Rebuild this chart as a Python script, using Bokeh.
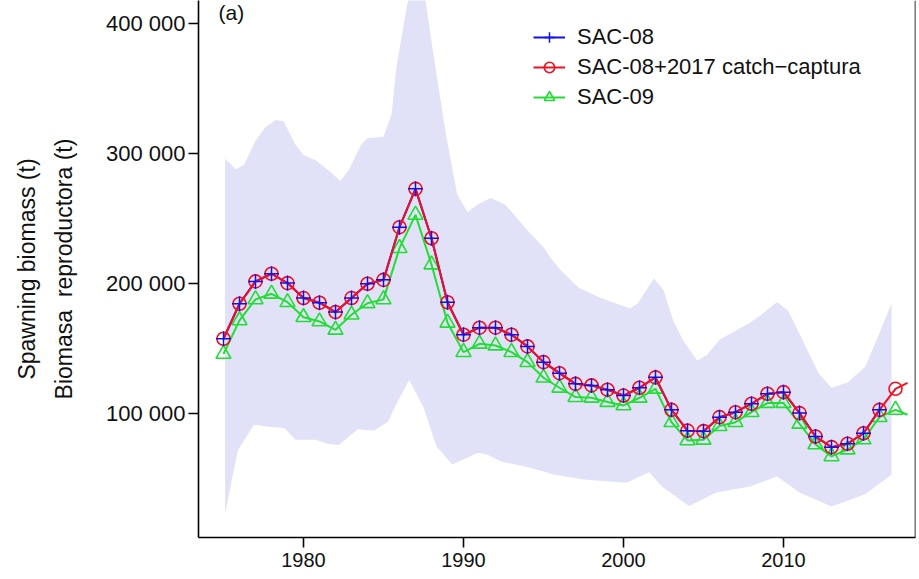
from bokeh.plotting import figure
from bokeh.models import Range1d, FixedTicker, Legend, LegendItem, Label, Span, Title
from bokeh.embed import file_html
from bokeh.resources import INLINE

FONT = "Liberation Sans"

# ---- data (tonnes) ----
years = list(range(1975, 2018))

sac08 = [157700, 184600, 201800, 207700, 200500, 189000, 185400, 178200, 189000, 200000,
         203000, 243500, 273000, 235000, 185800, 160800, 166200, 166200, 160800, 151800,
         139700, 131200, 123000, 121800, 118500, 114000, 120000, 128000, 103000, 87000,
         86600, 97400, 101200, 107700, 115400, 116600, 100500, 82500, 74300, 76900,
         85000, 103000]

sac08_2017 = sac08 + [119200]

sac09 = [146000, 171800, 188000, 192300, 185800, 174300, 171000, 164600, 176200, 185000,
         188000, 227400, 253000, 214800, 170000, 147400, 153800, 152500, 147400, 139700,
         127700, 120000, 112800, 112300, 109000, 106400, 112300, 119200, 93500, 79500,
         80000, 90500, 93500, 101200, 108200, 108200, 92300, 76400, 67200, 72500,
         80200, 97400, 103000]

last_quarter = 2017.75
sac08_2017_last = 123800
sac09_last = 99200

band_upper_years = [1975.1, 1975.8, 1976.3, 1977.0, 1977.6, 1978.25, 1978.75, 1979.5, 1980.0,
                    1980.75, 1981.6, 1982.3, 1982.8, 1983.6, 1984.0, 1985.0, 1985.5, 1985.8,
                    1986.4, 1987.0, 1987.6, 1988.1, 1988.9, 1989.6, 1990.25, 1990.9, 1991.7,
                    1992.6, 1994.0, 1995.0, 1995.5, 1996.1, 1997.2, 1998.6, 2000.4, 2000.9,
                    2001.9, 2002.5, 2003.1, 2003.7, 2004.6, 2005.2, 2006.0, 2007.9, 2008.7,
                    2009.6, 2010.3, 2011.1, 2012.2, 2013.0, 2014.0, 2015.1, 2015.9, 2016.75]
band_upper = [296000, 288000, 292000, 310000, 320000, 326000, 325000, 307000, 299000,
              295000, 287000, 279000, 287000, 307000, 312000, 313000, 330000, 366000,
              409000, 450000, 420000, 378000, 315000, 269000, 255000, 261000, 266000,
              261000, 241000, 228000, 219000, 210000, 197000, 189000, 181000, 185000,
              204000, 195000, 172000, 157000, 141000, 145000, 157000, 170000, 177000,
              186000, 179000, 159000, 131000, 120000, 124000, 136000, 159000, 185000]

band_lower_years = [1975.1, 1975.5, 1975.9, 1976.9, 1977.8, 1978.8, 1979.5, 1980.75, 1981.5,
                    1982.2, 1983.4, 1984.4, 1985.3, 1985.7, 1986.6, 1987.5, 1988.3, 1989.3,
                    1990.9, 1991.5, 1992.4, 1994.0, 1995.7, 1997.5, 2000.2, 2001.6, 2002.4,
                    2004.1, 2005.8, 2007.9, 2009.6, 2011.0, 2013.0, 2015.1, 2016.75]
band_lower = [23000, 48000, 72000, 91500, 90000, 89000, 80000, 80000, 77000,
              76000, 88000, 87000, 94000, 105000, 126000, 105000, 75000, 61000,
              70000, 68500, 63000, 59000, 53000, 49400, 47000, 55000, 44000,
              29000, 39500, 44000, 51700, 39500, 28700, 38000, 53000]

x_ticks = [1980, 1990, 2000, 2010]
y_ticks = [100000, 200000, 300000, 400000]
y_tick_labels = ["100 000", "200 000", "300 000", "400 000"]

series_labels = ["SAC-08", "SAC-08+2017 catch\u2212captura", "SAC-09"]
y_title_1 = "Spawning biomass (t)"
y_title_2 = "Biomasa\u00a0\u00a0reproductora (t)"
panel_tag = "(a)"

# ---- figure ----
p = figure(width=919, height=579, output_backend="svg", toolbar_location=None,
           x_range=Range1d(1973.4375, 2018.25), y_range=Range1d(4800, 417900),
           min_border_left=198, min_border_right=4, min_border_top=0, min_border_bottom=42)
p.grid.visible = False
p.outline_line_color = None
p.background_fill_color = "white"
p.border_fill_color = "white"

BLUE = "#1010F0"
RED = "#F01020"
GREEN = "#22DD33"
BAND = "#E1E1F8"
INK = "#111111"

# confidence band
p.patch(band_upper_years + band_lower_years[::-1], band_upper + band_lower[::-1],
        fill_color=BAND, line_color=None)

# SAC-09
g_line = p.line(years + [last_quarter], sac09 + [sac09_last], line_color=GREEN, line_width=2)
g_pts = p.scatter(years, sac09, marker="triangle", size=15, fill_color=None,
                  line_color=GREEN, line_width=1.6)

# SAC-08 line, then SAC-08 + 2017 catch
b_line = p.line(years[:-1], sac08, line_color=BLUE, line_width=2)
r_line = p.line(years + [last_quarter], sac08_2017 + [sac08_2017_last], line_color=RED, line_width=2)
r_pts = p.scatter(years, sac08_2017, marker="circle", size=13, fill_color=None,
                  line_color=RED, line_width=1.6)
b_pts = p.scatter(years[:-1], sac08, marker="cross", size=15, line_color=BLUE, line_width=1.5)

# axes
for ax in (p.xaxis[0], p.yaxis[0]):
    ax.axis_line_color = "black"
    ax.axis_line_width = 1.6
    ax.major_tick_line_color = "black"
    ax.major_tick_line_width = 1.6
    ax.major_tick_in = 0
    ax.major_tick_out = 10
    ax.minor_tick_line_color = None
    ax.major_label_text_font = FONT
    ax.major_label_text_color = INK

p.xaxis.ticker = FixedTicker(ticks=x_ticks)
p.xaxis.major_label_text_font_size = "20px"
p.xaxis.major_label_standoff = 5

p.yaxis.ticker = FixedTicker(ticks=y_ticks)
p.yaxis.major_label_overrides = {t: s for t, s in zip(y_ticks, y_tick_labels)}
p.yaxis.major_label_text_font_size = "22px"
p.yaxis.major_label_orientation = "horizontal"
p.yaxis.major_label_standoff = 3

# inner y title as the axis label, outer one as a left title
p.yaxis.axis_label = y_title_2
p.yaxis.axis_label_text_font = FONT
p.yaxis.axis_label_text_font_size = "23px"
p.yaxis.axis_label_text_font_style = "normal"
p.yaxis.axis_label_text_color = INK
p.yaxis.axis_label_standoff = 26

p.add_layout(Title(text=y_title_1, align="center", text_font=FONT, text_font_size="23px",
                   text_font_style="normal", text_color=INK, standoff=16, offset=-4), "left")

# right border of the box
p.add_layout(Span(location=2018.25, dimension="height", line_color="black", line_width=1.6))

# panel tag
p.add_layout(Label(x=20, y=525, x_units="screen", y_units="screen", text=panel_tag,
                   text_font=FONT, text_font_size="21px", text_baseline="alphabetic",
                   text_color=INK))

legend = Legend(items=[LegendItem(label=series_labels[0], renderers=[b_line, b_pts]),
                       LegendItem(label=series_labels[1], renderers=[r_line, r_pts]),
                       LegendItem(label=series_labels[2], renderers=[g_line, g_pts])],
                location=(335, 427), border_line_color=None, background_fill_alpha=0,
                label_text_font=FONT, label_text_font_size="22px", label_text_color=INK,
                glyph_width=32, glyph_height=26, label_height=26, spacing=4,
                padding=0, margin=0, label_standoff=12)
p.add_layout(legend)

open("out.html", "w").write(file_html(p, INLINE))
